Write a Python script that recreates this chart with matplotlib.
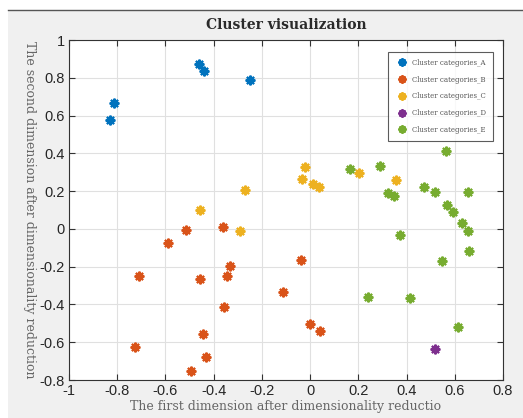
import matplotlib.pyplot as plt
from matplotlib.patches import Rectangle
from matplotlib.lines import Line2D

# cluster points
a_x = [-0.83, -0.813, -0.462, -0.439, -0.249]
a_y = [0.575, 0.668, 0.871, 0.836, 0.788]

b_x = [-0.516, -0.362, -0.588, -0.711, -0.332, -0.455, -0.343, -0.356,
       -0.445, -0.726, -0.432, -0.494, -0.037, -0.111, 0.0, 0.039]
b_y = [-0.005, 0.012, -0.076, -0.247, -0.199, -0.266, -0.25, -0.416,
       -0.559, -0.623, -0.677, -0.753, -0.166, -0.332, -0.503, -0.541]

c_x = [-0.455, -0.27, -0.292, -0.022, -0.033, 0.014, 0.037, 0.202, 0.356]
c_y = [0.10, 0.206, -0.009, 0.33, 0.263, 0.24, 0.224, 0.296, 0.261]

d_x = [0.52]
d_y = [-0.635]

e_x = [0.165, 0.289, 0.321, 0.35, 0.371, 0.473, 0.516, 0.564, 0.654, 0.567,
       0.593, 0.631, 0.654, 0.661, 0.545, 0.242, 0.415, 0.613]
e_y = [0.317, 0.335, 0.19, 0.173, -0.035, 0.22, 0.197, 0.414, 0.194, 0.127,
       0.092, 0.03, -0.009, -0.115, -0.169, -0.363, -0.367, -0.52]

labels = ["Cluster categories_A", "Cluster categories_B", "Cluster categories_C",
          "Cluster categories_D", "Cluster categories_E"]
colors = ["#0072BD", "#D95319", "#EDB120", "#7E2F8E", "#77AC30"]

fig = plt.figure(figsize=(5.23, 4.18), dpi=100)
fig.patch.set_facecolor("white")
# grey window background like the screenshot
fig.patches.append(Rectangle((8 / 523, 0), 1, 1 - 10 / 418, transform=fig.transFigure,
                             facecolor="#f0f0f0", edgecolor="none", zorder=-5))
fig.add_artist(Line2D([8 / 523, 1], [1 - 10 / 418, 1 - 10 / 418], color="#555555",
                      lw=1.0, transform=fig.transFigure))

ax = fig.add_axes([69 / 523, 1 - 380 / 418, 434 / 523, 340 / 418])
ax.set_facecolor("white")

data = [(a_x, a_y), (b_x, b_y), (c_x, c_y), (d_x, d_y), (e_x, e_y)]
for (xs, ys), lab, col in zip(data, labels, colors):
    ax.plot(xs, ys, linestyle="none", marker=(8, 2, 0), markersize=7,
            markeredgewidth=1.5, color=col, label=lab)

ax.set_xlim(-1, 0.8)
ax.set_ylim(-0.8, 1)
ax.set_xticks([-1, -0.8, -0.6, -0.4, -0.2, 0, 0.2, 0.4, 0.6, 0.8])
ax.set_xticklabels(["-1", "-0.8", "-0.6", "-0.4", "-0.2", "0", "0.2", "0.4", "0.6", "0.8"])
ax.set_yticks([-0.8, -0.6, -0.4, -0.2, 0, 0.2, 0.4, 0.6, 0.8, 1])
ax.set_yticklabels(["-0.8", "-0.6", "-0.4", "-0.2", "0", "0.2", "0.4", "0.6", "0.8", "1"])
for t in ax.get_xticklabels() + ax.get_yticklabels():
    t.set_fontfamily("Liberation Sans")
ax.grid(True, color="#e0e0e0", linewidth=0.8)
ax.set_axisbelow(True)
ax.tick_params(direction="in", top=True, right=True, length=4, color="#333333",
               labelsize=10.5, labelcolor="#262626", pad=3)
for s in ax.spines.values():
    s.set_color("#333333")
    s.set_linewidth(0.8)

ax.set_title("Cluster visualization", fontfamily="serif", fontweight="bold",
             fontsize=10, color="#2a2a2a", pad=8)
ax.set_xlabel("The first dimension after dimensionality reductio", fontfamily="serif",
              fontsize=9, color="#666666", labelpad=1)
ax.set_ylabel("The second dimension after dimensionality reduction", fontfamily="serif",
              fontsize=9, color="#666666", rotation=-90, labelpad=12)

leg = ax.legend(loc="upper right", bbox_to_anchor=(0.985, 0.975), prop={"family": "serif", "size": 5},
                frameon=True, fancybox=False, borderpad=1.0, labelspacing=1.25,
                handletextpad=0.4, markerscale=0.85)
leg.get_frame().set_edgecolor("#333333")
leg.get_frame().set_linewidth(0.8)
for t in leg.get_texts():
    t.set_color("#555555")

fig.savefig("out.png", dpi=100)
